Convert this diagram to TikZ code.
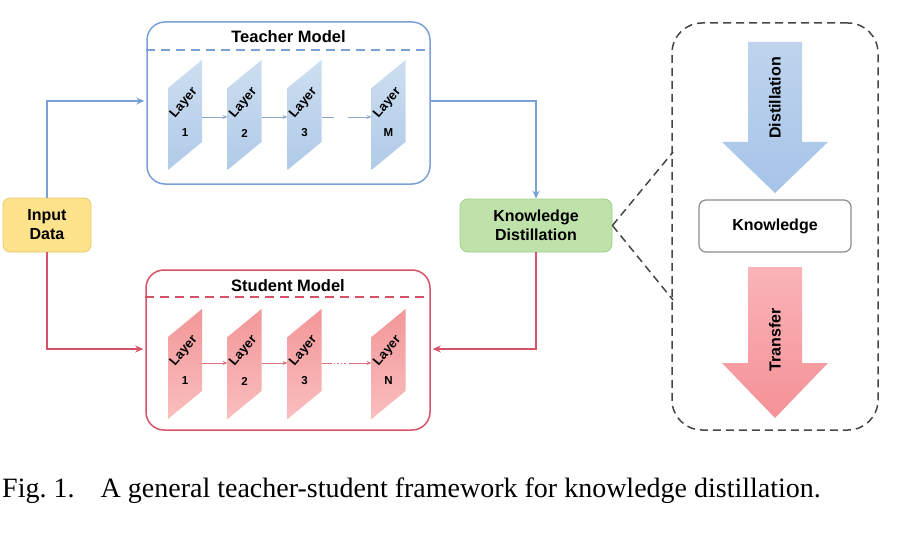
\documentclass[tikz,border=0pt]{standalone}
\usepackage{fontspec}
\setmainfont{Liberation Serif}
\newfontfamily\hv{Liberation Sans}
\usetikzlibrary{arrows.meta,calc}
\definecolor{tblue}{RGB}{122,160,214}
\definecolor{tlayer}{RGB}{176,202,232}
\definecolor{tlayerl}{RGB}{205,222,240}
\definecolor{tlayerd}{RGB}{140,170,205}
\definecolor{sred}{RGB}{214,82,104}
\definecolor{slayer}{RGB}{242,150,152}
\definecolor{slayerl}{RGB}{250,190,190}
\definecolor{slayerd}{RGB}{215,115,125}
\definecolor{inyel}{RGB}{255,226,140}
\definecolor{inyeld}{RGB}{235,200,110}
\definecolor{kdgreen}{RGB}{190,226,170}
\definecolor{kdgreend}{RGB}{160,205,140}
\definecolor{dgrey}{RGB}{70,70,70}
\definecolor{kgrey}{RGB}{140,140,140}
\definecolor{darrow}{RGB}{166,196,232}
\definecolor{darrowl}{RGB}{190,212,238}
\definecolor{tarrow}{RGB}{245,145,150}
\definecolor{tarrowl}{RGB}{250,180,185}
\begin{document}
\begin{tikzpicture}[x=1pt,y=-1pt,
  layertxt/.style={font=\hv\bfseries\fontsize{13}{14}\selectfont,rotate=50,inner sep=0pt},
  numtxt/.style={font=\hv\bfseries\fontsize{11.5}{12}\selectfont,inner sep=0pt},
  title/.style={font=\hv\bfseries\fontsize{16.5}{18}\selectfont,inner sep=0pt},
  bigtxt/.style={font=\hv\bfseries\fontsize{16}{19}\selectfont,align=center,inner sep=0pt},
  tline/.style={draw=tblue,line width=1.3pt},
  sline/.style={draw=sred,line width=1.3pt},
  tarr/.style={tline,-{Stealth[length=8pt,width=7pt]}},
  sarr/.style={sline,-{Stealth[length=8pt,width=7pt]}},
  tsmall/.style={draw=tlayerd,line width=0.8pt,-{Stealth[length=5pt,width=4pt]}},
  ssmall/.style={draw=slayerd,line width=0.8pt,-{Stealth[length=5pt,width=4pt]}},
  dline/.style={draw=dgrey,line width=1.5pt,dash pattern=on 8pt off 5pt},
]
\useasboundingbox (0,0) rectangle (917,540);

% ---------- Teacher model ----------
\node[draw=tblue,line width=1.5pt,rounded corners=18pt,minimum width=283pt,minimum height=162pt,inner sep=0pt] (teach) at (288.5,103) {};
\draw[tblue,line width=1.3pt,dash pattern=on 9pt off 6pt] ($(teach.west)+(0,-53)$) -- ($(teach.east)+(0,-53)$);
\node[title] (teachT) at (288.5,37) {Teacher Model};

\foreach \n/\x/\lab in {t1/185/1,t2/244.5/2,t3/304.5/3,tM/388.5/M}{
  \coordinate (\n) at (\x,115);
  \coordinate (\n w) at (\x-17,117);
  \coordinate (\n e) at (\x+17,117);
  \shade[top color=tlayerl,bottom color=tlayer] ($(\n)+(-17,-27)$) -- ($(\n)+(17,-55)$) -- ($(\n)+(17,27)$) -- ($(\n)+(-17,55)$) -- cycle;
  \node[layertxt] (\n l) at ($(\n)+(-1,-12)$) {Layer};
  \node[numtxt] (\n n) at ($(\n)+(0,18)$) {\lab};
}
\draw[tsmall] (t1e) -- (t2w);
\draw[tsmall] (t2e) -- (t3w);
\draw[tsmall,dash pattern=on 12pt off 14pt on 30pt] (t3e) -- (tMw);

% ---------- Student model ----------
\node[draw=sred,line width=1.5pt,rounded corners=18pt,minimum width=284pt,minimum height=160pt,inner sep=0pt] (stud) at (288,350) {};
\draw[sred,line width=1.3pt,dash pattern=on 9pt off 6pt] ($(stud.west)+(0,-53)$) -- ($(stud.east)+(0,-53)$);
\node[title] (studT) at (288,286) {Student Model};

\foreach \n/\x/\lab in {s1/185/1,s2/244.5/2,s3/304.5/3,sN/388.5/N}{
  \coordinate (\n) at (\x,364);
  \coordinate (\n w) at (\x-17,363);
  \coordinate (\n e) at (\x+17,363);
  \shade[top color=slayer,bottom color=slayerl] ($(\n)+(-17,-27)$) -- ($(\n)+(17,-55)$) -- ($(\n)+(17,27)$) -- ($(\n)+(-17,55)$) -- cycle;
  \node[layertxt] (\n l) at ($(\n)+(-1,-13)$) {Layer};
  \node[numtxt] (\n n) at ($(\n)+(0,17)$) {\lab};
}
\draw[ssmall] (s1e) -- (s2w);
\draw[ssmall] (s2e) -- (s3w);
\draw[ssmall,dash pattern=on 10pt off 2pt on 1.5pt off 2pt on 1.5pt off 2pt on 1.5pt off 2pt on 1.5pt off 3pt on 30pt] (s3e) -- (sNw);

% ---------- Input data ----------
\node[fill=inyel,draw=inyeld,line width=0.8pt,rounded corners=7pt,minimum width=88pt,minimum height=54pt,bigtxt] (inp) at (47,225) {Input\\Data};
\draw[tarr] (inp.north) |- ($(teach.west)+(-2,-2)$);
\draw[sarr] (inp.south) |- ($(stud.west)+(-2,-1)$);

% ---------- Knowledge distillation ----------
\node[fill=kdgreen,draw=kdgreend,line width=0.8pt,rounded corners=8pt,minimum width=152pt,minimum height=53pt,bigtxt] (kd) at (536,225.5) {Knowledge\\Distillation};
\draw[tarr] ($(teach.east)+(0,-2)$) -| (kd.north);
\draw[sarr] (kd.south) |- ($(stud.east)+(2,-1)$);

% ---------- Right panel ----------
\node[dline,rounded corners=30pt,minimum width=206pt,minimum height=407pt,inner sep=0pt] (panel) at (775,226.5) {};
\coordinate (pu) at (673,152);
\coordinate (pd) at (673,300);
\draw[dline] (kd.east) -- (pu);
\draw[dline] (kd.east) -- (pd);

\shade[top color=darrowl,bottom color=darrow] (748,42) -- (802,42) -- (802,142) -- (828,142) -- (775,193) -- (722,142) -- (748,142) -- cycle;
\node[bigtxt,rotate=90] (distT) at (775,98) {Distillation};

\node[draw=kgrey,line width=1.2pt,rounded corners=7pt,fill=white,minimum width=152pt,minimum height=52pt,bigtxt] (know) at (775,226) {Knowledge};

\shade[top color=tarrowl,bottom color=tarrow] (748,267) -- (802,267) -- (802,363) -- (828,363) -- (775,418) -- (722,363) -- (748,363) -- cycle;
\node[bigtxt,rotate=90] (transT) at (775,340) {Transfer};

% ---------- Caption ----------
\node[anchor=base west,inner sep=0pt,font=\fontsize{28}{30}\selectfont] (cap) at (2,497) {Fig.~1.\hspace{0.6em} A general teacher-student framework for knowledge distillation.};
\end{tikzpicture}
\end{document}
